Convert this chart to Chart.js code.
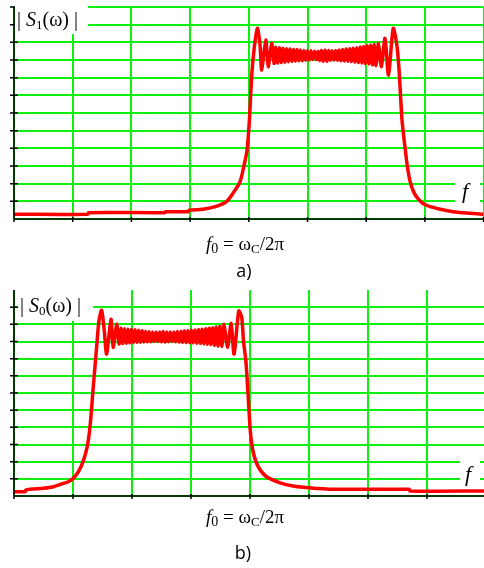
<!DOCTYPE html>
<html>
<head>
<meta charset="utf-8">
<script src="https://cdn.jsdelivr.net/npm/chart.js@4.4.0/dist/chart.umd.min.js"></script>
<style>
body{margin:0;background:#fff;}
#wrap{position:relative;width:484px;height:568px;overflow:hidden;background:#fff;}
canvas{position:absolute;left:0;}
.box{position:absolute;background:#fff;}
.t{position:absolute;font-family:"Liberation Serif",serif;line-height:1;white-space:nowrap;color:#000;
   will-change:transform;opacity:0.999;-webkit-font-smoothing:antialiased;}
.cap{position:absolute;font-family:"Open Sans",sans-serif;font-size:18px;line-height:1;color:#000;
   will-change:transform;opacity:0.999;}
.sb{position:relative;}
</style>
</head>
<body>
<div id="wrap">
  <canvas id="chartA" width="484" height="230" style="top:0"></canvas>
  <canvas id="chartB" width="484" height="230" style="top:280px"></canvas>

  <div class="box" style="left:15px;top:0;width:73px;height:34px"></div>
  <div class="t" style="left:17px;top:9px;font-size:20px">|&nbsp;<i>S</i><span class="sb" style="font-size:13px;top:3px">1</span>(ω)&nbsp;|</div>
  <div class="box" style="left:455px;top:176px;width:25px;height:30px"></div>
  <div class="t" style="left:462px;top:180px;font-size:22px"><i>f</i></div>
  <div class="t" style="left:0;width:490px;text-align:center;top:234px;font-size:19px"><i>f</i><span class="sb" style="font-size:14px;top:3px">0</span> = ω<span class="sb" style="font-size:13px;top:3px">C</span>/2π</div>
  <div class="cap" style="left:0;width:488px;text-align:center;top:261px">a)</div>

  <div class="box" style="left:18px;top:285px;width:75px;height:36px"></div>
  <div class="t" style="left:20px;top:295px;font-size:20px">|&nbsp;<i>S</i><span class="sb" style="font-size:13px;top:3px">0</span>(ω)&nbsp;|</div>
  <div class="box" style="left:460px;top:455px;width:20px;height:33px"></div>
  <div class="t" style="left:465px;top:463px;font-size:22px"><i>f</i></div>
  <div class="t" style="left:0;width:490px;text-align:center;top:507px;font-size:19px"><i>f</i><span class="sb" style="font-size:14px;top:3px">0</span> = ω<span class="sb" style="font-size:13px;top:3px">C</span>/2π</div>
  <div class="cap" style="left:0;width:486px;text-align:center;top:543px">b)</div>
</div>

<script>
// a) high-pass spectrum |S1(w)|, frequency in grid units
var freqA = [0, 1.26, 1.27, 2.57, 2.58, 2.97, 2.98, 3.22, 3.46, 3.62, 3.73, 3.85, 3.93, 3.97,
  4.01, 4.05, 4.09, 4.145, 4.19, 4.22, 4.29, 4.33, 4.39, 4.43,
  4.46, 4.49, 4.52, 4.55, 4.58, 4.61, 4.64, 4.67, 4.70, 4.73, 4.76, 4.79, 4.82, 4.85, 4.88, 4.91,
  4.94, 4.97, 5.00, 5.03, 5.06, 5.09, 5.12, 5.15, 5.18, 5.21, 5.24, 5.27, 5.30, 5.33, 5.36, 5.39,
  5.42, 5.45, 5.48, 5.51, 5.54, 5.57, 5.60, 5.63, 5.66, 5.69, 5.72, 5.75, 5.78, 5.81, 5.84, 5.87,
  5.90, 5.93, 5.96, 5.99, 6.02, 6.05, 6.08, 6.11, 6.14, 6.17,
  6.21, 6.26, 6.32, 6.38, 6.46, 6.52, 6.56, 6.61, 6.66, 6.70, 6.75, 6.82, 6.90, 6.98, 7.09, 7.26, 7.48, 7.77, 8.0];
var magA = [0.27, 0.27, 0.36, 0.36, 0.41, 0.41, 0.50, 0.55, 0.73, 0.98, 1.45, 2.1, 3.2, 3.9,
  5.6, 8.15, 9.6, 10.8, 9.9, 8.43, 10.13, 8.62, 9.94, 8.81,
  9.72, 8.83, 9.70, 8.86, 9.67, 8.88, 9.64, 8.90, 9.62, 8.93, 9.60, 8.94, 9.59, 8.96, 9.57, 8.96,
  9.54, 8.98, 9.52, 9.00, 9.52, 9.03, 9.50, 9.03, 9.48, 8.98, 9.54, 8.93, 9.57, 8.93, 9.54, 8.98,
  9.52, 9.00, 9.54, 8.98, 9.57, 8.96, 9.60, 8.94, 9.62, 8.93, 9.64, 8.91, 9.67, 8.88, 9.70, 8.86,
  9.74, 8.83, 9.77, 8.80, 9.80, 8.78, 9.84, 8.73, 9.87, 8.68,
  9.94, 8.62, 10.23, 8.15, 10.79, 9.9, 8.43, 5.6, 4.1, 3.0, 2.1, 1.45, 1.08, 0.85, 0.70, 0.55, 0.41, 0.32, 0.27];

// b) low-pass spectrum |S0(w)|
var freqB = [0, 0.19, 0.20, 0.50, 0.67, 0.81, 0.92, 1.00, 1.09, 1.17, 1.24, 1.29,
  1.34, 1.40, 1.44, 1.486, 1.53, 1.57, 1.644, 1.68, 1.74, 1.78,
  1.81, 1.84, 1.87, 1.90, 1.93, 1.96, 1.99, 2.02, 2.05, 2.08, 2.11, 2.14, 2.17, 2.20, 2.23, 2.26,
  2.29, 2.32, 2.35, 2.38, 2.41, 2.44, 2.47, 2.50, 2.53, 2.56, 2.59, 2.62, 2.65, 2.68, 2.71, 2.74,
  2.77, 2.80, 2.83, 2.86, 2.89, 2.92, 2.95, 2.98, 3.01, 3.04, 3.07, 3.10, 3.13, 3.16, 3.19, 3.22,
  3.25, 3.28, 3.31, 3.34, 3.37, 3.40, 3.43, 3.46, 3.49,
  3.525, 3.56, 3.62, 3.68, 3.73, 3.81, 3.86, 3.89, 3.93, 3.97, 4.01, 4.06, 4.14, 4.28,
  4.51, 4.73, 4.99, 5.41, 6.70, 6.71, 8.0];
var magB = [0.25, 0.25, 0.35, 0.45, 0.54, 0.70, 0.83, 1.02, 1.41, 2.0, 2.86, 4.1,
  6.2, 8.66, 10.2, 10.82, 9.62, 8.27, 10.30, 8.66, 10.01, 8.85,
  9.78, 8.88, 9.75, 8.90, 9.72, 8.92, 9.70, 8.94, 9.68, 8.95, 9.65, 8.96, 9.62, 8.97, 9.60, 8.98,
  9.58, 8.98, 9.56, 9.00, 9.55, 9.00, 9.55, 8.98, 9.58, 8.96, 9.56, 8.98, 9.55, 9.00, 9.56, 8.98,
  9.58, 8.96, 9.60, 8.95, 9.62, 8.94, 9.63, 8.93, 9.65, 8.92, 9.67, 8.90, 9.70, 8.88, 9.72, 8.86,
  9.74, 8.84, 9.77, 8.82, 9.80, 8.78, 9.84, 8.74, 9.88,
  8.72, 10.0, 8.66, 10.05, 8.27, 10.78, 10.4, 9.0, 7.88, 5.76, 3.6, 2.47, 1.7, 1.12,
  0.77, 0.58, 0.48, 0.39, 0.39, 0.29, 0.29];

var green = '#10f010';

// black axes with crossing tick marks
var axesPlugin = {
  id: 'axes',
  afterDraw: function(chart, args, opts) {
    var ctx = chart.ctx, xs = chart.scales.x, ys = chart.scales.y, area = chart.chartArea;
    var x0 = xs.getPixelForValue(0), y0 = ys.getPixelForValue(0);
    ctx.save();
    ctx.strokeStyle = '#000';
    ctx.lineWidth = 1.5;
    ctx.beginPath();
    ctx.moveTo(x0, opts.axisTop); ctx.lineTo(x0, y0);
    ctx.moveTo(x0, y0); ctx.lineTo(area.right + 2, y0);
    ys.ticks.forEach(function(t) {
      if (t.value > 0 && t.value <= opts.lastTick) {
        var p = ys.getPixelForValue(t.value);
        ctx.moveTo(x0 - 4, p); ctx.lineTo(x0 + 4, p);
      }
    });
    xs.ticks.forEach(function(t) {
      var p = xs.getPixelForValue(t.value);
      ctx.moveTo(p, y0 - 2); ctx.lineTo(p, y0 + 3);
    });
    ctx.stroke();
    ctx.restore();
  }
};

function drawSpectrum(id, freq, mag, xMax, pad, lastTick, axisTop, topLine) {
  var pts = [];
  for (var i = 0; i < freq.length; i++) pts.push({x: freq[i], y: mag[i]});
  return new Chart(document.getElementById(id), {
    type: 'line',
    data: {datasets: [{
      data: pts,
      borderColor: '#ff0000',
      borderWidth: 3.5,
      pointRadius: 0,
      tension: 0.25,
      fill: false
    }]},
    plugins: [axesPlugin],
    options: {
      responsive: false,
      animation: false,
      layout: {padding: pad},
      plugins: {legend: {display: false}, tooltip: {enabled: false},
        axes: {lastTick: lastTick, axisTop: axisTop}},
      scales: {
        x: {type: 'linear', min: 0, max: xMax,
          ticks: {display: false, stepSize: 1, includeBounds: false},
          border: {display: false},
          grid: {color: green, lineWidth: 2, drawTicks: false}},
        y: {type: 'linear', min: 0, max: 12,
          ticks: {display: false, stepSize: 1},
          border: {display: false},
          grid: {lineWidth: 2, drawTicks: false,
            color: function(c) { return (c.tick && c.tick.value === 12 && !topLine) ? 'rgba(0,0,0,0)' : green; }}}
      }
    }
  });
}

drawSpectrum('chartA', freqA, magA, 8, {left: 14, top: 7, right: 0.4, bottom: 11}, 12, 7, true);
drawSpectrum('chartB', freqB, magB, 7.966, {left: 14, top: 10, right: 0, bottom: 14}, 11, 10, false);
</script>
</body>
</html>
